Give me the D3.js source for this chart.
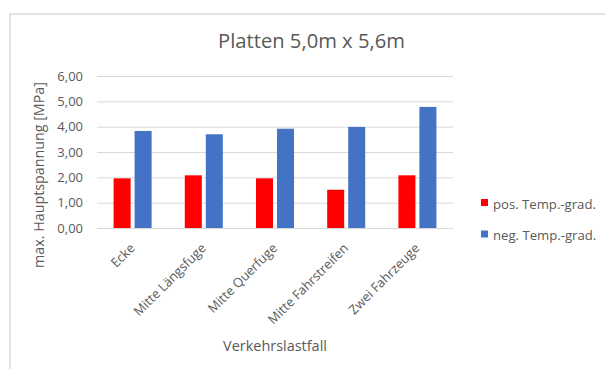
<!DOCTYPE html>
<html><head><meta charset="utf-8">
<script src="https://cdn.jsdelivr.net/npm/d3@7"></script>
<style>
body{margin:0;background:#fff;}
svg text{font-family:"Open Sans","Noto Sans",sans-serif;fill:#595959;}
</style></head>
<body><svg id="c" width="605" height="369"></svg>
<script>
const categories = ["Ecke","Mitte Längsfuge","Mitte Querfuge","Mitte Fahrstreifen","Zwei Fahrzeuge"];
const seriesNames = ["pos. Temp.-grad.","neg. Temp.-grad."];
const posValues = [1.96, 2.08, 1.96, 1.51, 2.08];
const negValues = [3.83, 3.70, 3.92, 3.99, 4.78];
const yTicks = [0,1,2,3,4,5,6];
const colors = ["#ff0000","#4472c4"];
const title = "Platten 5,0m x 5,6m";
const yTitle = "max. Hauptspannung [MPa]";
const xTitle = "Verkehrslastfall";

(function(){
const svg = d3.select("#c");
svg.append("rect").attr("x",10).attr("y",14).attr("width",620).attr("height",400)
  .attr("fill","#fff").attr("stroke","#d9d9d9").attr("stroke-width",1.5);

// scale a text's font size so that it spans the given length
function fit(sel, base, target){
  sel.attr("font-size", base+"px");
  const n = sel.node(); const w = n.getComputedTextLength();
  const fs = base*target/w;
  sel.attr("font-size", fs+"px");
  return fs;
}

const pL=97, pR=453, pT=76, pB=228;
const x0 = d3.scaleBand().domain(categories).range([pL,pR]).paddingInner(0.466).paddingOuter(0.233);
const x1 = d3.scaleBand().domain(seriesNames).range([0,x0.bandwidth()]).paddingInner(0.19);
const y = d3.scaleLinear().domain([0,6]).range([pB,pT]);
const fmt = v => d3.format(".2f")(v).replace(".",",");

const yAxis = d3.axisLeft(y).tickValues(yTicks).tickSize(-(pR-pL)).tickFormat(fmt);
const ga = svg.append("g").attr("transform",`translate(${pL},0)`).call(yAxis);
ga.select(".domain").remove();
ga.selectAll(".tick line").attr("stroke","#d9d9d9").attr("stroke-width",1);
ga.selectAll(".tick text").attr("x",-14).attr("font-size","13px").style("font-family","'Open Sans','Noto Sans',sans-serif").attr("fill","#595959");

const data = categories.map((c,i)=>({c, vals:[posValues[i],negValues[i]]}));
const g = svg.append("g");
g.selectAll("g.cat").data(data).join("g").attr("class","cat")
 .attr("transform",d=>`translate(${x0(d.c)},0)`)
 .selectAll("rect").data(d=>d.vals.map((v,j)=>({v,s:seriesNames[j],j})))
 .join("rect")
 .attr("x",d=>x1(d.s)).attr("width",x1.bandwidth())
 .attr("y",d=>y(d.v)).attr("height",d=>y(0)-y(d.v))
 .attr("fill",d=>colors[d.j]);

const xAxis = d3.axisBottom(x0).tickSize(0);
const gx = svg.append("g").attr("transform",`translate(0,${pB})`).call(xAxis);
gx.select(".domain").attr("stroke","#d9d9d9");
const xt = gx.selectAll(".tick text").style("font-family","'Open Sans','Noto Sans',sans-serif").attr("fill","#595959")
  .attr("text-anchor","end").attr("dy",0).attr("y",0)
  .attr("transform","translate(3,21) rotate(-45)");
const xfs = fit(xt.filter(d=>d===categories[1]), 14, 96);
xt.attr("font-size", xfs+"px");

const t = svg.append("text").attr("x",311.5).attr("y",48).attr("text-anchor","middle").text(title);
fit(t, 18, 187);
const yt = svg.append("text").attr("transform","translate(44,175) rotate(-90)").attr("text-anchor","middle").text(yTitle);
fit(yt, 13, 186);
const xtt = svg.append("text").attr("x",275).attr("y",351).attr("text-anchor","middle").text(xTitle);
fit(xtt, 13, 104);

const lg = svg.append("g").selectAll("g").data(seriesNames).join("g")
  .attr("transform",(d,i)=>`translate(481,${199+i*31.5})`);
lg.append("rect").attr("width",7).attr("height",7).attr("fill",(d,i)=>colors[i]);
const lt = lg.append("text").attr("x",12).attr("y",9.5).text(d=>d);
const lfs = fit(lt.filter((d,i)=>i===0), 12.5, 103);
lt.attr("font-size", lfs+"px");
})();
</script></body></html>
